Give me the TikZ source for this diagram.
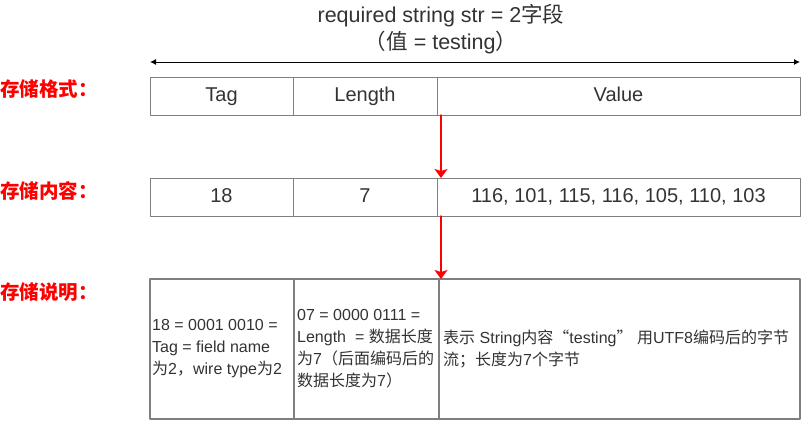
\documentclass[tikz,border=0pt]{standalone}
\usepackage{fontspec}
\setmainfont{Liberation Sans}
\newfontfamily\cjk{Noto Sans CJK SC}
\newcommand{\zh}[1]{{\cjk #1}}
\usetikzlibrary{arrows.meta}
\definecolor{boxgray}{HTML}{7F7F7F}
\definecolor{inkgray}{HTML}{333333}
\definecolor{flowred}{HTML}{FF0000}

\begin{document}
\begin{tikzpicture}[line cap=round, line join=round, x=1pt, y=-1pt,
    cell/.style={draw=boxgray, line width=1pt, anchor=north west, inner sep=0pt, outer sep=0pt,
      minimum height=38pt, text height=14pt, text depth=3.5pt, text=inkgray,
      font=\fontsize{20}{22}\selectfont},
    wide/.style={cell, minimum height=140pt, line width=1.4pt},
    rowlabel/.style={anchor=west, inner sep=0pt, text=flowred,
      font=\fontsize{19.5}{22}\selectfont\cjk\bfseries},
    note/.style={anchor=west, inner sep=0pt, align=left, text=inkgray,
      font=\fontsize{16}{22}\selectfont},
    span/.style={draw=black, line width=1pt,
      {Latex[length=6pt,width=6pt]}-{Latex[length=6pt,width=6pt]}},
    flow/.style={draw=flowred, line width=1.5pt,
      -{Stealth[length=9pt,width=13pt,inset=2pt]}}]
  \useasboundingbox (0,0) rectangle (801,421);

  % Title
  \node[align=center, text=inkgray, font=\fontsize{21.5}{27}\selectfont] (title) at (441,29.5)
    {required string str = 2\zh{字段}\\\zh{（值} = testing\zh{）}};

  % Format row
  \node[rowlabel] (lblfmt) at (0,89) {存储格式：};
  \node[cell, minimum width=143pt] (fmttag) at (150,77) {Tag};
  \node[cell, minimum width=144pt] (fmtlen) at (fmttag.north east) {Length};
  \node[cell, minimum width=363pt] (fmtval) at (fmtlen.north east) {Value};
  \draw[span] ([yshift=15pt]fmttag.north west) -- ([yshift=15pt]fmtval.north east);

  % Content row
  \node[rowlabel] (lblcnt) at (0,191) {存储内容：};
  \node[cell, minimum width=143pt] (cnttag) at (150,178) {18};
  \node[cell, minimum width=144pt] (cntlen) at (cnttag.north east) {7};
  \node[cell, minimum width=363pt] (cntval) at (cntlen.north east) {116, 101, 115, 116, 105, 110, 103};

  % Explanation row
  \node[rowlabel] (lblexp) at (0,292) {存储说明：};
  \node[wide, minimum width=144pt] (exptag) at (150,279) {};
  \node[wide, minimum width=145pt] (explen) at (exptag.north east) {};
  \node[wide, minimum width=361pt] (expval) at (explen.north east) {};
  \node[note] (notetag) at ([xshift=2pt]exptag.west)
    {18 = 0001 0010 =\\Tag = field name\\\zh{为}2\zh{，}wire type\zh{为}2};
  \node[note] (notelen) at ([xshift=3pt]explen.west)
    {07 = 0000 0111 =\\Length\ \ = \zh{数据长度}\\\zh{为}7\zh{（后面编码后的}\\\zh{数据长度为}7\zh{）}};
  \node[note] (noteval) at ([xshift=4pt]expval.west)
    {\zh{表示} String\zh{内容“}testing\zh{”} \zh{用}UTF8\zh{编码后的字节}\\\zh{流；长度为}7\zh{个字节}};

  % Arrows
  \draw[flow] ([xshift=4pt]fmtval.south west) -- ([xshift=4pt]cntval.north west);
  \draw[flow] ([xshift=4pt]cntval.south west) -- ([xshift=2pt]expval.north west);
\end{tikzpicture}
\end{document}
